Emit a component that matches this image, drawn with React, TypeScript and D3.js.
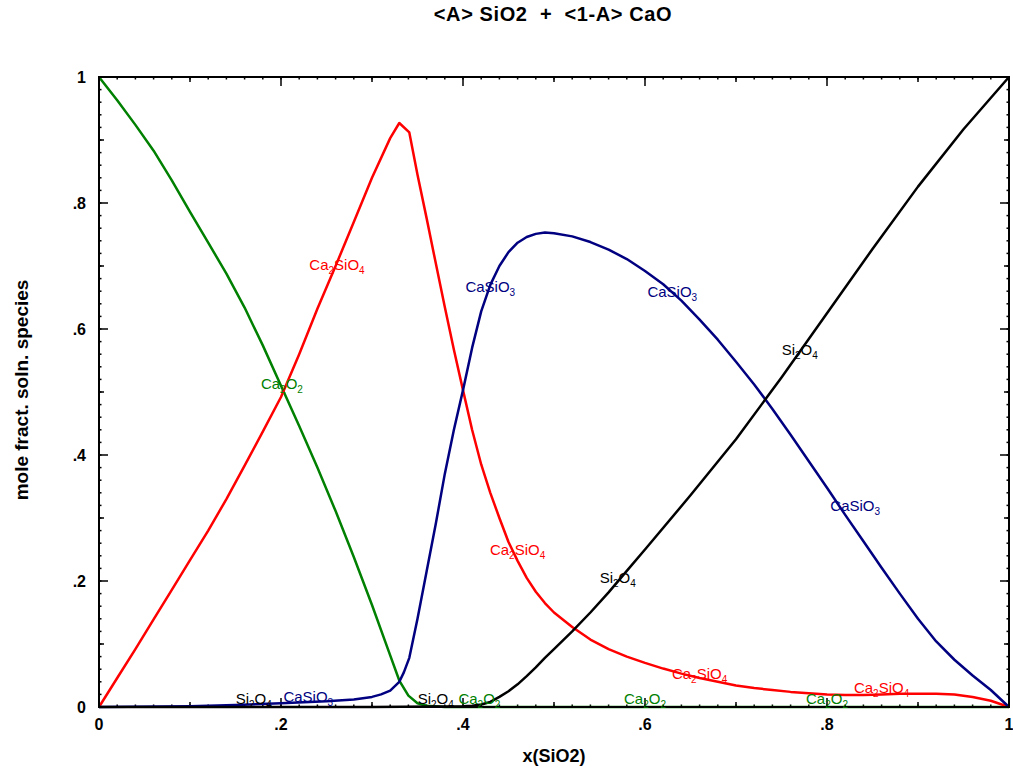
import React from "react";
import * as d3 from "d3";

const title = "<A> SiO2  +  <1-A> CaO";
const xTitle = "x(SiO2)";
const yTitle = "mole fract. soln. species";
const tickValues = [0, 0.2, 0.4, 0.6, 0.8, 1];
const tickLabels = ["0", ".2", ".4", ".6", ".8", "1"];

// [x, mole fraction]
const ca2o2: [number, number][] = [
  [0, 1], [0.02, 0.963], [0.04, 0.924], [0.06, 0.883], [0.08, 0.836], [0.1, 0.786],
  [0.12, 0.737], [0.14, 0.688], [0.16, 0.634], [0.18, 0.574], [0.2, 0.51], [0.22, 0.446],
  [0.24, 0.38], [0.26, 0.311], [0.28, 0.238], [0.3, 0.162], [0.32, 0.082], [0.33, 0.042],
  [0.34, 0.018], [0.35, 0.006], [0.36, 0.002], [0.38, 0], [0.6, 0], [1, 0],
];

const ca2sio4: [number, number][] = [
  [0, 0], [0.02, 0.046], [0.04, 0.092], [0.06, 0.139], [0.08, 0.186], [0.1, 0.233],
  [0.12, 0.28], [0.14, 0.33], [0.16, 0.383], [0.18, 0.437], [0.2, 0.492], [0.22, 0.56],
  [0.24, 0.632], [0.26, 0.7], [0.28, 0.77], [0.3, 0.84], [0.32, 0.903], [0.33, 0.927],
  [0.341, 0.912], [0.35, 0.845], [0.36, 0.776], [0.37, 0.705], [0.38, 0.635], [0.39, 0.567],
  [0.4, 0.503], [0.41, 0.44], [0.42, 0.385], [0.43, 0.34], [0.44, 0.3], [0.45, 0.262],
  [0.46, 0.232], [0.47, 0.205], [0.48, 0.183], [0.49, 0.165], [0.5, 0.15], [0.52, 0.127],
  [0.54, 0.107], [0.56, 0.092], [0.58, 0.08], [0.6, 0.07], [0.62, 0.061], [0.64, 0.053],
  [0.66, 0.046], [0.68, 0.04], [0.7, 0.034], [0.72, 0.03], [0.74, 0.027], [0.76, 0.024],
  [0.78, 0.022], [0.8, 0.02], [0.82, 0.019], [0.84, 0.019], [0.86, 0.02], [0.88, 0.021],
  [0.9, 0.021], [0.92, 0.021], [0.94, 0.02], [0.96, 0.016], [0.98, 0.01], [1, 0],
];

const casio3: [number, number][] = [
  [0, 0], [0.1, 0.001], [0.15, 0.003], [0.2, 0.006], [0.25, 0.009], [0.28, 0.012],
  [0.3, 0.016], [0.31, 0.02], [0.32, 0.026], [0.33, 0.04], [0.335, 0.055], [0.341, 0.078],
  [0.35, 0.14], [0.36, 0.215], [0.37, 0.29], [0.38, 0.37], [0.39, 0.44], [0.4, 0.503],
  [0.41, 0.57], [0.42, 0.628], [0.43, 0.67], [0.44, 0.7], [0.45, 0.722], [0.46, 0.737],
  [0.47, 0.746], [0.48, 0.751], [0.49, 0.753], [0.5, 0.752], [0.52, 0.747], [0.54, 0.738],
  [0.56, 0.726], [0.58, 0.711], [0.6, 0.692], [0.62, 0.671], [0.64, 0.645], [0.66, 0.615],
  [0.68, 0.583], [0.7, 0.548], [0.72, 0.512], [0.74, 0.473], [0.76, 0.432], [0.78, 0.39],
  [0.8, 0.348], [0.82, 0.305], [0.84, 0.263], [0.86, 0.221], [0.88, 0.18], [0.9, 0.14],
  [0.92, 0.104], [0.94, 0.075], [0.96, 0.05], [0.98, 0.027], [1, 0],
];

const si2o4: [number, number][] = [
  [0, 0], [0.3, 0], [0.4, 0.001], [0.41, 0.002], [0.42, 0.004], [0.43, 0.008],
  [0.44, 0.016], [0.45, 0.025], [0.46, 0.036], [0.47, 0.049], [0.48, 0.063], [0.49, 0.078],
  [0.5, 0.092], [0.52, 0.12], [0.54, 0.15], [0.56, 0.182], [0.58, 0.216], [0.6, 0.25],
  [0.65, 0.336], [0.7, 0.425], [0.75, 0.523], [0.8, 0.625], [0.85, 0.727], [0.9, 0.826],
  [0.95, 0.917], [1, 1],
];

const seriesList = [
  { name: "Ca2O2", color: "#008000", data: ca2o2 },
  { name: "Ca2SiO4", color: "#ff0000", data: ca2sio4 },
  { name: "CaSiO3", color: "#000080", data: casio3 },
  { name: "Si2O4", color: "#000000", data: si2o4 },
];

// curve labels: text, x, y, color
const curveLabels: [string, number, number, string][] = [
  ["Ca_2SiO_4", 0.2615, 0.702, "#ff0000"],
  ["CaSiO_3", 0.43, 0.667, "#000080"],
  ["CaSiO_3", 0.63, 0.659, "#000080"],
  ["Si_2O_4", 0.77, 0.567, "#000000"],
  ["Ca_2O_2", 0.201, 0.513, "#008000"],
  ["CaSiO_3", 0.831, 0.319, "#000080"],
  ["Ca_2SiO_4", 0.46, 0.249, "#ff0000"],
  ["Si_2O_4", 0.57, 0.205, "#000000"],
  ["Ca_2SiO_4", 0.66, 0.052, "#ff0000"],
  ["Ca_2SiO_4", 0.86, 0.03, "#ff0000"],
  ["Si_2O_4", 0.17, 0.013, "#000000"],
  ["CaSiO_3", 0.23, 0.016, "#000080"],
  ["Si_2O_4", 0.37, 0.013, "#000000"],
  ["Ca_2O_2", 0.418, 0.013, "#008000"],
  ["Ca_2O_2", 0.6, 0.013, "#008000"],
  ["Ca_2O_2", 0.8, 0.013, "#008000"],
];

const W = 1013;
const H = 768;
const L = 99, R = 1009, T = 77, B = 707;
const FONT = "'Liberation Sans', Arial, Helvetica, sans-serif";

function Label({ text, x, y, color }: { text: string; x: number; y: number; color: string }) {
  const parts = text.split(/(_\d)/).filter((p) => p.length > 0);
  const spans: React.ReactNode[] = [];
  let sub = false;
  parts.forEach((p, i) => {
    if (p.startsWith("_")) {
      spans.push(
        <tspan key={i} fontSize={10} dy={sub ? 0 : 4}>{p.slice(1)}</tspan>
      );
      sub = true;
    } else {
      spans.push(
        <tspan key={i} fontSize={15} dy={sub ? -4 : 0}>{p}</tspan>
      );
      sub = false;
    }
  });
  return (
    <text x={x} y={y + 5} textAnchor="middle" fill={color} fontFamily={FONT}>
      {spans}
    </text>
  );
}

export default function App() {
  const x = d3.scaleLinear().domain([0, 1]).range([L, R]);
  const y = d3.scaleLinear().domain([0, 1]).range([B, T]);
  const line = d3
    .line<[number, number]>()
    .x((d) => x(d[0]))
    .y((d) => y(d[1]))
    .curve(d3.curveLinear);

  const minor = d3.range(0, 1.0001, 0.02);
  const mid = d3.range(0.1, 1, 0.2);

  const ticks: React.ReactNode[] = [];
  minor.forEach((v, i) => {
    ticks.push(<line key={"bx" + i} x1={x(v)} x2={x(v)} y1={B} y2={B - 2.5} />);
    ticks.push(<line key={"tx" + i} x1={x(v)} x2={x(v)} y1={T} y2={T + 2.5} />);
    ticks.push(<line key={"ly" + i} x1={L} x2={L + 2.5} y1={y(v)} y2={y(v)} />);
    ticks.push(<line key={"ry" + i} x1={R} x2={R - 2.5} y1={y(v)} y2={y(v)} />);
  });
  mid.forEach((v, i) => {
    ticks.push(<line key={"bxm" + i} x1={x(v)} x2={x(v)} y1={B} y2={B - 5} />);
    ticks.push(<line key={"txm" + i} x1={x(v)} x2={x(v)} y1={T} y2={T + 5} />);
    ticks.push(<line key={"lym" + i} x1={L} x2={L + 5} y1={y(v)} y2={y(v)} />);
    ticks.push(<line key={"rym" + i} x1={R} x2={R - 5} y1={y(v)} y2={y(v)} />);
  });
  tickValues.forEach((v, i) => {
    ticks.push(<line key={"bxM" + i} x1={x(v)} x2={x(v)} y1={B} y2={B - 9} />);
    ticks.push(<line key={"txM" + i} x1={x(v)} x2={x(v)} y1={T} y2={T + 9} />);
    ticks.push(<line key={"lyM" + i} x1={L} x2={L + 9} y1={y(v)} y2={y(v)} />);
    ticks.push(<line key={"ryM" + i} x1={R} x2={R - 9} y1={y(v)} y2={y(v)} />);
  });

  return (
    <svg
      width={W}
      height={H}
      style={{ position: "absolute", left: 0, top: 0, background: "#fff" }}
    >
      <rect x={0} y={0} width={W} height={H} fill="#fff" />
      <text
        x={553}
        y={21}
        textAnchor="middle"
        fontFamily={FONT}
        fontWeight="bold"
        fontSize={20}
        letterSpacing={0.6}
        style={{ whiteSpace: "pre" }}
      >
        {title}
      </text>
      <g stroke="#000" strokeWidth={1.5}>{ticks}</g>
      {seriesList.map((s) => (
        <path
          key={s.name}
          d={line(s.data) || ""}
          fill="none"
          stroke={s.color}
          strokeWidth={2.5}
          strokeLinejoin="round"
        />
      ))}
      <rect x={L} y={T} width={R - L} height={B - T} fill="none" stroke="#000" strokeWidth={2} />
      {curveLabels.map((l, i) => (
        <Label key={i} text={l[0]} x={x(l[1])} y={y(l[2])} color={l[3]} />
      ))}
      {tickValues.map((v, i) => (
        <text
          key={"xl" + i}
          x={x(v)}
          y={B + 23}
          textAnchor="middle"
          fontFamily={FONT}
          fontWeight="bold"
          fontSize={16}
        >
          {tickLabels[i]}
        </text>
      ))}
      {tickValues.map((v, i) => (
        <text
          key={"yl" + i}
          x={L - 13}
          y={y(v) + 6}
          textAnchor="end"
          fontFamily={FONT}
          fontWeight="bold"
          fontSize={16}
        >
          {tickLabels[i]}
        </text>
      ))}
      <text
        x={554}
        y={762}
        textAnchor="middle"
        fontFamily={FONT}
        fontWeight="bold"
        fontSize={18}
      >
        {xTitle}
      </text>
      <text
        transform={`translate(28,390) rotate(-90)`}
        textAnchor="middle"
        fontFamily={FONT}
        fontWeight="bold"
        fontSize={19}
      >
        {yTitle}
      </text>
    </svg>
  );
}
